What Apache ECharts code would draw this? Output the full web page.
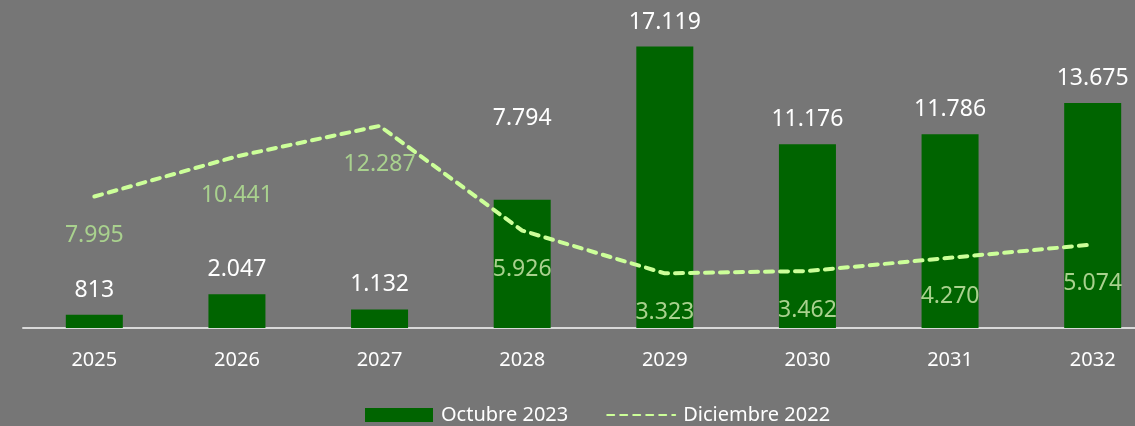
<!DOCTYPE html>
<html>
<head>
<meta charset="utf-8">
<script src="https://cdn.jsdelivr.net/npm/echarts@6/dist/echarts.min.js"></script>
<style>
  html, body { margin: 0; padding: 0; background: #767676; }
  #chart { width: 1135px; height: 426px; }
</style>
</head>
<body>
<div id="chart"></div>
<script>
const years = ['2025', '2026', '2027', '2028', '2029', '2030', '2031', '2032']
const octubre2023 = [813, 2047, 1132, 7794, 17119, 11176, 11786, 13675]
const diciembre2022 = [7995, 10441, 12287, 5926, 3323, 3462, 4270, 5074]

// miles con punto, como en el original
function fmt(v) {
  return String(v).replace(/\B(?=(\d{3})+(?!\d))/g, '.')
}

const font = 'Noto Sans'
const chart = echarts.init(document.getElementById('chart'))

chart.setOption({
  backgroundColor: '#767676',
  animation: false,
  grid: {
    top: 32,
    bottom: 98,
    left: 23,
    right: -29,
    outerBoundsMode: 'none'
  },
  legend: {
    left: 360,
    top: 400,
    itemWidth: 68,
    itemHeight: 14,
    itemGap: 38,
    textStyle: { color: '#ffffff', fontSize: 20, fontFamily: font, padding: [0, 0, 0, 3] },
    data: [
      { name: 'Octubre 2023', icon: 'rect' },
      { name: 'Diciembre 2022', lineStyle: { type: [7, 6], cap: 'round' } }
    ]
  },
  xAxis: {
    type: 'category',
    data: years,
    axisTick: { show: false },
    axisLine: { lineStyle: { color: '#d9d9d9', width: 2 } },
    axisLabel: { color: '#ffffff', fontSize: 20, fontFamily: font, margin: 22 }
  },
  yAxis: {
    type: 'value',
    min: 0,
    max: 18000,
    show: false,
    splitLine: { show: false }
  },
  series: [
    {
      name: 'Octubre 2023',
      type: 'bar',
      barWidth: 57,
      itemStyle: { color: '#006400' },
      label: {
        show: true,
        position: 'top',
        distance: 13,
        color: '#ffffff',
        fontSize: 23,
        fontFamily: font,
        formatter: p => fmt(p.value)
      },
      data: octubre2023.map((v, i) => i === 3 ? { value: v, label: { offset: [0, -57] } } : v)
    },
    {
      name: 'Diciembre 2022',
      type: 'line',
      showSymbol: true,
      symbol: 'circle',
      symbolSize: 1,
      z: 3,
      lineStyle: { color: '#ccff99', width: 4, type: [8, 7], cap: 'round' },
      itemStyle: { color: 'rgba(0,0,0,0)', borderWidth: 0 },
      label: {
        show: true,
        position: 'bottom',
        distance: 27,
        color: '#a9d18e',
        fontSize: 23,
        fontFamily: font,
        formatter: p => fmt(p.value)
      },
      data: diciembre2022
    }
  ]
})
</script>
</body>
</html>
